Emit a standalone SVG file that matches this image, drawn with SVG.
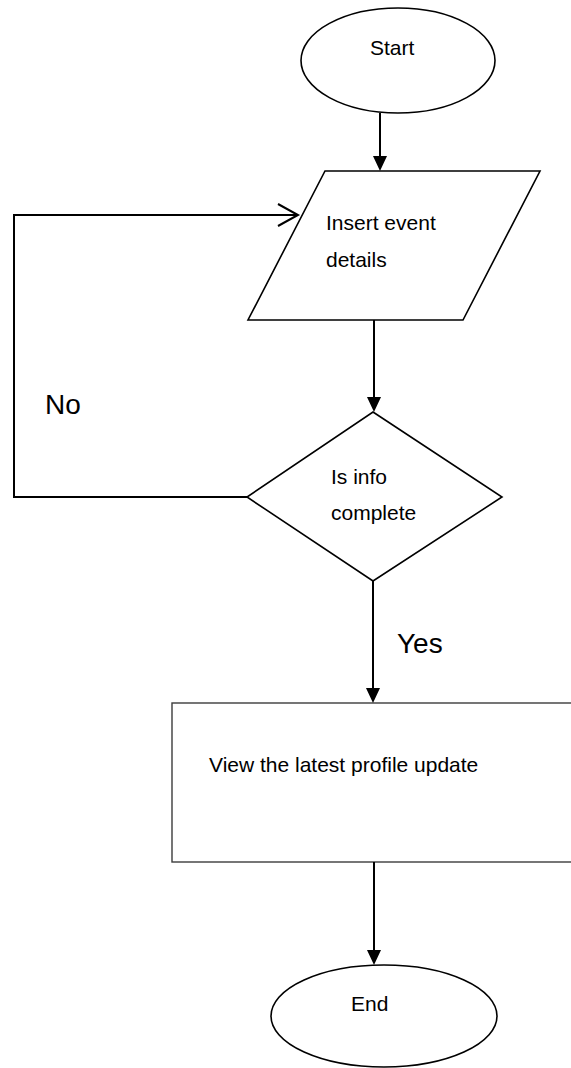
<svg xmlns="http://www.w3.org/2000/svg" width="571" height="1068" viewBox="0 0 571 1068">
<style>
.shape{fill:#fff;stroke:#000;stroke-width:1.6}
.rectshape{fill:#fff;stroke:#3c3c3c;stroke-width:1.4}
.conn{fill:none;stroke:#000;stroke-width:2}
.lbl{font-family:"Liberation Sans",Arial,sans-serif;font-size:21px;fill:#000}
.big{font-family:"Liberation Sans",Arial,sans-serif;font-size:28px;fill:#000}
</style>
<defs>
<marker id="ah" markerWidth="14" markerHeight="15" refX="7" refY="15" orient="auto-start-reverse" markerUnits="userSpaceOnUse" viewBox="0 0 14 15">
<path d="M0,0 L14,0 L7,15 Z" fill="#000"/>
</marker>
</defs>
<rect width="571" height="1068" fill="#fff"/>
<g id="start">
<ellipse class="shape" cx="398" cy="60.5" rx="97" ry="52.5"/>
<text class="lbl" x="370" y="55">Start</text>
</g>
<g id="insert">
<polygon class="shape" points="325,171 540,171 463,320 248,320"/>
<text class="lbl" x="326" y="230">Insert event</text>
<text class="lbl" x="326" y="267">details</text>
</g>
<g id="decision">
<polygon class="shape" points="373,412 502,497 373,581 247,497"/>
<text class="lbl" x="331" y="484">Is info</text>
<text class="lbl" x="331" y="520">complete</text>
</g>
<g id="view">
<rect class="rectshape" x="172" y="703" width="410" height="159"/>
<text class="lbl" x="209" y="772">View the latest profile update</text>
</g>
<g id="end">
<ellipse class="shape" cx="384" cy="1016" rx="113" ry="51"/>
<text class="lbl" x="351" y="1011">End</text>
</g>
<g id="connectors">
<line class="conn" x1="380" y1="113" x2="380" y2="156"/>
<path d="M373,156 L387,156 L380,171 Z" fill="#000"/>
<line class="conn" x1="374" y1="320" x2="374" y2="397"/>
<path d="M367,397 L381,397 L374,412 Z" fill="#000"/>
<line class="conn" x1="373" y1="581" x2="373" y2="688"/>
<path d="M366,688 L380,688 L373,703 Z" fill="#000"/>
<line class="conn" x1="374" y1="862" x2="374" y2="950"/>
<path d="M367,950 L381,950 L374,965 Z" fill="#000"/>
<polyline class="conn" points="247,497 14,497 14,215 297,215"/>
<polyline class="conn" points="278,204 298,215 278,226"/>
<text class="big" x="45" y="414">No</text>
<text class="big" x="397" y="653">Yes</text>
</g>
</svg>
